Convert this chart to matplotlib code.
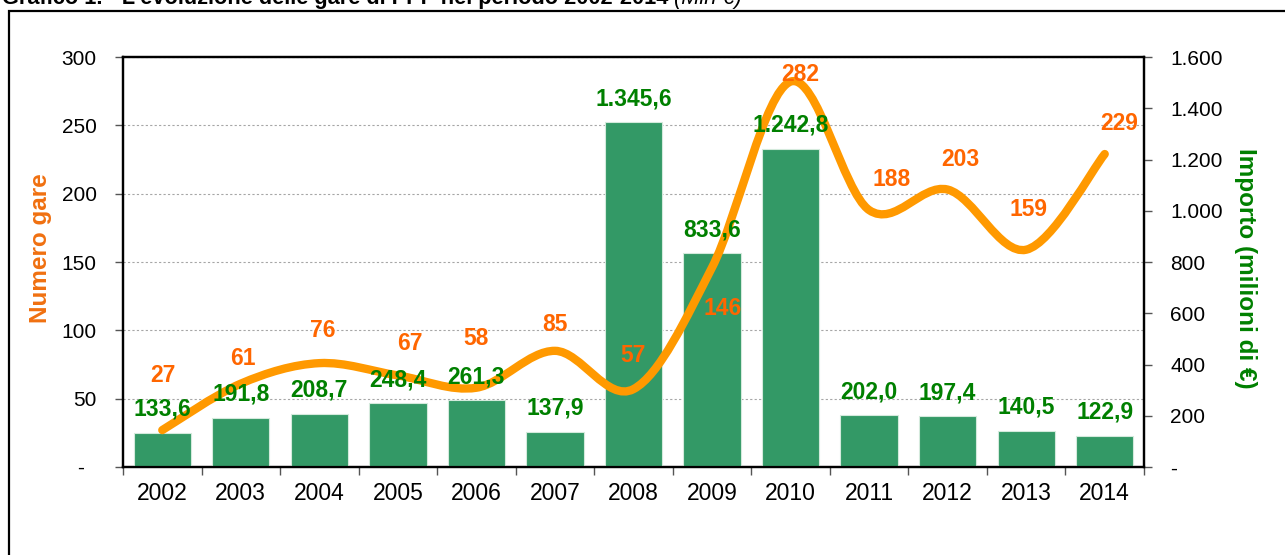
import numpy as np
import matplotlib
matplotlib.use("Agg")
import matplotlib.pyplot as plt
from matplotlib.path import Path
from matplotlib.patches import PathPatch, Rectangle

plt.rcParams['font.family'] = ['Liberation Sans', 'DejaVu Sans']

# data
anni = ['2002', '2003', '2004', '2005', '2006', '2007', '2008',
        '2009', '2010', '2011', '2012', '2013', '2014']
numero_gare = [27, 61, 76, 67, 58, 85, 57, 146, 282, 188, 203, 159, 229]
importo = [133.6, 191.8, 208.7, 248.4, 261.3, 137.9, 1345.6,
           833.6, 1242.8, 202.0, 197.4, 140.5, 122.9]

titolo = "Grafico 1. - L'evoluzione delle gare di PPP nel periodo 2002-2014"
unita = " (Mln €)"

# label offsets (pixels) for the orange line labels, just style
off_gare = [(1, 56), (2, 27), (3, 34), (12, 33), (0, 51), (0, 28), (0, 35),
            (11, -40), (10, 9), (23, 32), (13, 32), (2, 42), (14, 32)]

GREEN = '#339966'
ORANGE = '#FF9900'


def fmt_it(v, dec=1):
    s = f"{v:,.{dec}f}"
    return s.replace(',', 'X').replace('.', ',').replace('X', '.')


fig = plt.figure(figsize=(12.85, 5.55), dpi=100)
ax = fig.add_axes([123 / 1285, 88 / 555, 1021 / 1285, 410 / 555])
ax2 = ax.twinx()

x = np.arange(len(anni))

# bars: importo on right axis
ax2.bar(x, importo, width=0.73, color=GREEN, edgecolor='#d4eadc',
        linewidth=0.8, zorder=2)

# smoothed line (Excel-like bezier) on left axis scale
pts = np.column_stack([x, numero_gare]).astype(float)
ext = np.vstack([pts[0], pts, pts[-1]])
verts = [pts[0]]
codes = [Path.MOVETO]
for i in range(len(pts) - 1):
    p0, p1, p2, p3 = ext[i], ext[i + 1], ext[i + 2], ext[i + 3]
    verts += [p1 + (p2 - p0) / 6, p2 - (p3 - p1) / 6, p2]
    codes += [Path.CURVE4] * 3
line = PathPatch(Path(verts, codes), facecolor='none', edgecolor=ORANGE,
                 lw=6, capstyle='round', joinstyle='round',
                 transform=ax.transData, zorder=3)
ax2.add_patch(line)

# labels
for xi, v in zip(x, importo):
    ax2.annotate(fmt_it(v), xy=(xi, v), xytext=(0, 25 - 8),
                 textcoords='offset pixels', ha='center', va='baseline',
                 color='#008000', fontsize=16.5, fontweight='bold', zorder=4)
for xi, v, (dx, dy) in zip(x, numero_gare, off_gare):
    ax2.annotate(str(v), xy=(xi, v), xycoords=ax.transData,
                 xytext=(dx, dy - 8), textcoords='offset pixels',
                 ha='center', va='baseline', color='#FF6600',
                 fontsize=16.5, fontweight='bold', zorder=4)

# axes
ax.set_xlim(-0.5, len(anni) - 0.5)
ax.set_ylim(0, 300)
ax2.set_ylim(0, 1600)

left_ticks = np.arange(0, 301, 50)
ax.set_yticks(left_ticks)
ax.set_yticklabels(['-  '] + [str(t) for t in left_ticks[1:]])
right_ticks = np.arange(0, 1601, 200)
ax2.set_yticks(right_ticks)
ax2.set_yticklabels(['-'] + [fmt_it(t, 0) for t in right_ticks[1:]])

ax.set_xticks(x)
ax.set_xticklabels(anni)
ax.set_xticks(np.arange(-0.5, len(anni), 1), minor=True)
ax.tick_params(axis='x', which='major', length=0, pad=11, labelsize=16.5)
ax.tick_params(axis='x', which='minor', length=6, width=1, color='#555555',
               direction='out')
ax.tick_params(axis='y', length=6, width=1, color='#555555', direction='out',
               pad=13, labelsize=15)
ax2.tick_params(axis='y', length=6, width=1, color='#555555', direction='out',
                pad=13, labelsize=15)

ax.yaxis.grid(True, linestyle=(0, (2, 2)), color='#a6a6a6', linewidth=0.8)
ax.set_axisbelow(True)

for a in (ax, ax2):
    for s in a.spines.values():
        s.set_linewidth(1.6)
        s.set_color('black')

ax.set_ylabel('Numero gare', color='#F07010', fontsize=17.5,
              fontweight='bold')
ax.yaxis.set_label_coords(-0.0695, 0.534)
ax2.set_ylabel('Importo (milioni di €)', color='#008000', fontsize=17.5,
               fontweight='bold', rotation=-90, va='center')
ax2.yaxis.set_label_coords(1.099, 0.485)

# outer frame and title (the source image cuts the title at the top edge)
fig.patches.append(Rectangle((9 / 1285, -0.2), 1.2, 1.2 - 11 / 555,
                             transform=fig.transFigure, fill=False,
                             edgecolor='black', linewidth=1.6))
t1 = fig.text(2 / 1285, 1 - 4 / 555, titolo, fontsize=15.7,
              fontweight='bold', va='baseline', ha='left')
fig.canvas.draw()
bb = t1.get_window_extent()
fig.text(bb.x1 / 1285, 1 - 4 / 555, unita, fontsize=15.7, style='italic',
         va='baseline', ha='left')

fig.savefig('out.png', dpi=100)
